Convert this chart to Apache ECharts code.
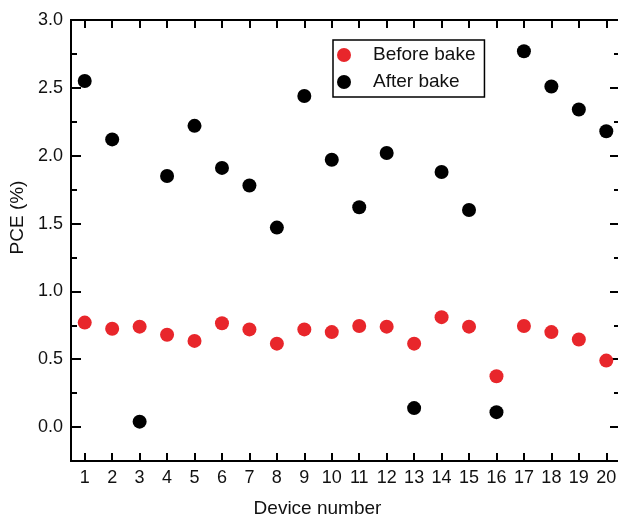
<!DOCTYPE html>
<html>
<head>
<meta charset="utf-8">
<script src="https://cdn.jsdelivr.net/npm/echarts@6/dist/echarts.min.js"></script>
<style>html,body{margin:0;padding:0;background:#fff;overflow:hidden;}#c{width:618px;height:516px;}</style>
</head>
<body>
<div id="c"></div>
<script>
const devices = [1,2,3,4,5,6,7,8,9,10,11,12,13,14,15,16,17,18,19,20];
const beforeBake = [0.77,0.725,0.74,0.68,0.635,0.765,0.72,0.615,0.72,0.70,0.745,0.74,0.615,0.81,0.74,0.375,0.745,0.70,0.645,0.49];
const afterBake = [2.55,2.12,0.04,1.85,2.22,1.91,1.78,1.47,2.44,1.97,1.62,2.02,0.14,1.88,1.60,0.11,2.77,2.51,2.34,2.18];
const yMajor = [0,0.5,1.0,1.5,2.0,2.5,3.0];
const yMinor = [0.25,0.75,1.25,1.75,2.25,2.75];
const xMin = 0.5, xMax = 20.5, yMin = -0.25, yMax = 3.0;

const FONT = "'Liberation Sans', Arial, sans-serif";
const lineStyle = {color:'#000', width:2};

function xAx(pos, labels, extra) {
  return Object.assign({
    type:'value', position:pos, min:xMin, max:xMax,
    axisLine:{show:true, onZero:false, lineStyle},
    axisTick:{show:true, inside:true, length:8, lineStyle, customValues:devices},
    axisLabel:{show:labels, customValues:devices, fontSize:18, color:'#111', fontFamily:FONT, margin:8},
    splitLine:{show:false}
  }, extra||{});
}
function yAx(pos, vals, len, labels, extra) {
  return Object.assign({
    type:'value', position:pos, min:yMin, max:yMax,
    axisLine:{show:true, onZero:false, lineStyle},
    axisTick:{show:true, inside:true, length:len, lineStyle, customValues:vals},
    axisLabel:{show:labels, customValues:vals, fontSize:18, color:'#111', fontFamily:FONT, margin:8,
      formatter:v=>Number(v).toFixed(1)},
    splitLine:{show:false}
  }, extra||{});
}

const chart = echarts.init(document.getElementById('c'), null, {renderer:'canvas', width:618, height:516});
chart.setOption({
  animation:false,
  backgroundColor:'#fff',
  grid:{left:71, top:20, right:-2, bottom:55, containLabel:false, outerBoundsMode:'none'},
  legend:{
    orient:'vertical', left:333, top:40,
    borderColor:'#000', borderWidth:1.5, padding:[5,9,5,4],
    itemWidth:48, itemHeight:14, itemGap:7, icon:'circle',
    textStyle:{fontSize:19, color:'#111', fontFamily:FONT, lineHeight:20},
    data:['Before bake','After bake']
  },
  xAxis:[
    xAx('bottom', true, {name:'Device number', nameLocation:'middle', nameGap:38,
      nameTextStyle:{fontSize:19, color:'#111', fontFamily:FONT, padding:[0,56,0,0]}}),
    xAx('top', false)
  ],
  yAxis:[
    yAx('left', yMajor, 10, true, {name:'PCE (%)', nameLocation:'middle', nameGap:34,
      nameTextStyle:{fontSize:19, color:'#111', fontFamily:FONT, padding:[0,0,0,46]}}),
    yAx('left', yMinor, 6, false),
    yAx('right', yMajor, 10, false),
    yAx('right', yMinor, 6, false)
  ],
  series:[
    {name:'Before bake', type:'scatter', symbol:'circle', symbolSize:14,
     itemStyle:{color:'#e8262b', opacity:1}, data:devices.map((d,i)=>[d,beforeBake[i]])},
    {name:'After bake', type:'scatter', symbol:'circle', symbolSize:14,
     itemStyle:{color:'#000', opacity:1}, data:devices.map((d,i)=>[d,afterBake[i]])}
  ]
});
</script>
</body>
</html>
